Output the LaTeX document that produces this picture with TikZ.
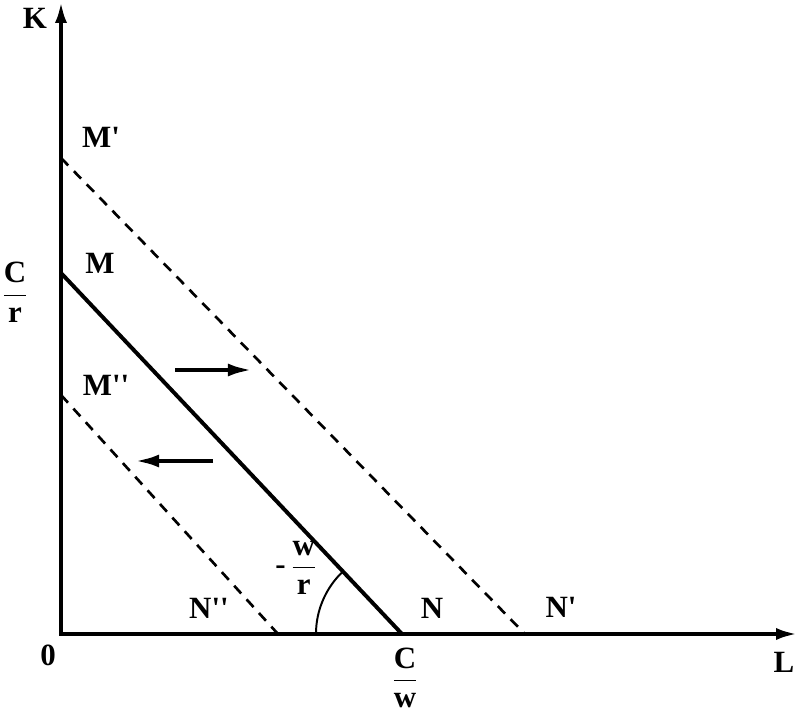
\documentclass[tikz,border=0pt]{standalone}
\usepackage{fontspec}
\setmainfont{Liberation Serif}
\usetikzlibrary{arrows.meta}
\begin{document}
\begin{tikzpicture}[x=0.025cm,y=0.025cm,
  lbl/.style={font=\fontsize{22}{24}\selectfont\bfseries,inner sep=0pt},
  axe/.style={line width=3pt,line join=miter},
  budget/.style={line width=2.8pt},
  shifted/.style={line width=1.9pt,dash pattern=on 0.26cm off 0.2cm},
  move/.style={line width=2.9pt,-{Latex[length=0.6cm,width=0.32cm]}}]

\useasboundingbox (0,0) rectangle (800,716);

% Axes
\coordinate (O) at (61,82);
\coordinate (Ktop) at (61,715);
\coordinate (Lend) at (798,82);
\draw[axe,{Latex[length=0.55cm,width=0.3cm]}-{Latex[length=0.55cm,width=0.3cm]}]
(Ktop)
-- (O)
-- (Lend);

% Droite de budget
\coordinate (M) at (61,443);
\coordinate (N) at (402,82);
\draw[budget] (M) -- (N);

% Droites deplacees
\coordinate (M1) at (61,558);
\coordinate (N1) at (525,82);
\coordinate (M2) at (61,321);
\coordinate (N2) at (278,82);
\draw[shifted] (M1) -- (N1);
\draw[shifted] (M2) -- (N2);

% Angle
\draw[line width=1.4pt]
(N) ++(133.4:2.15cm)
arc[start angle=133.4,end angle=180,radius=2.15cm];

% Fleches
\coordinate (r0) at (175,346);
\coordinate (r1) at (252,346);
\coordinate (l0) at (213,255);
\coordinate (l1) at (135,255);
\draw[move] (r0) -- (r1);
\draw[move] (l0) -- (l1);

% Etiquettes
\node[lbl] (K) at (35,698) {K};
\node[lbl] (L) at (784,54) {L};
\node[lbl] (zero) at (48,61) {0};
\node[lbl] (Mlab) at (100,453) {M};
\node[lbl] (M1lab) at (101,579) {M\textquotesingle};
\node[lbl] (M2lab) at (106,331) {M\textquotesingle\textquotesingle};
\node[lbl] (Nlab) at (432,108) {N};
\node[lbl] (N1lab) at (561,109) {N\textquotesingle};
\node[lbl] (N2lab) at (209,108) {N\textquotesingle\textquotesingle};
\node[lbl] (Cr) at (15,424) {$\displaystyle\frac{\textbf{C}}{\textbf{r}}$};
\node[lbl] (Cw) at (405,38) {$\displaystyle\frac{\textbf{C}}{\textbf{w}}$};
\node[lbl] (slope) at (296,148) {-\,$\displaystyle\frac{\textbf{w}}{\textbf{r}}$};

\end{tikzpicture}
\end{document}
